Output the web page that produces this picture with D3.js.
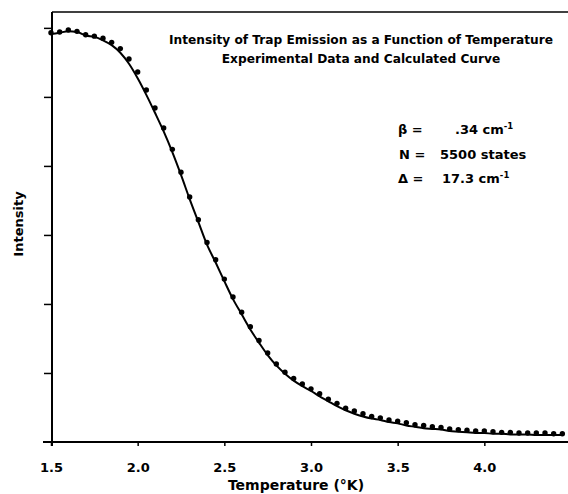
<!DOCTYPE html>
<html>
<head>
<meta charset="utf-8">
<script src="https://cdn.jsdelivr.net/npm/d3@7"></script>
<style>
  body { margin: 0; background: #fff; }
  text { font-family: "DejaVu Sans", sans-serif; font-weight: bold; fill: #000; }
</style>
</head>
<body>
<script>
// measured points (temperature in K, intensity in arbitrary units)
var pointTemps = [1.50,1.55,1.60,1.65,1.70,1.75,1.80,1.85,1.90,1.95,
                  2.00,2.05,2.10,2.15,2.20,2.25,2.30,2.35,2.40,2.45,
                  2.50,2.55,2.60,2.65,2.70,2.75,2.80,2.85,2.90,2.95,
                  3.00,3.05,3.10,3.15,3.20,3.25,3.30,3.35,3.40,3.45,
                  3.50,3.55,3.60,3.65,3.70,3.75,3.80,3.85,3.90,3.95,
                  4.00,4.05,4.10,4.15,4.20,4.25,4.30,4.35,4.40,4.45];
var pointValues = [5.93,5.94,5.97,5.95,5.90,5.88,5.85,5.79,5.70,5.55,
                   5.36,5.10,4.84,4.55,4.24,3.91,3.55,3.22,2.89,2.64,
                   2.36,2.10,1.88,1.67,1.47,1.29,1.13,1.01,0.92,0.84,
                   0.77,0.70,0.62,0.56,0.49,0.45,0.41,0.37,0.35,0.32,
                   0.30,0.28,0.25,0.24,0.22,0.21,0.19,0.18,0.17,0.16,
                   0.16,0.15,0.14,0.14,0.13,0.13,0.13,0.13,0.12,0.12];

// calculated curve
var curveTemps = pointTemps;
var curveValues = [5.91,5.93,5.95,5.94,5.89,5.87,5.82,5.75,5.64,5.48,
                   5.27,5.03,4.77,4.50,4.20,3.87,3.52,3.19,2.86,2.60,
                   2.33,2.07,1.85,1.63,1.44,1.26,1.11,0.99,0.89,0.81,
                   0.74,0.66,0.59,0.52,0.46,0.41,0.37,0.34,0.32,0.29,
                   0.27,0.24,0.22,0.20,0.19,0.18,0.16,0.15,0.14,0.13,
                   0.13,0.12,0.12,0.11,0.11,0.11,0.10,0.10,0.10,0.10];

var xTicks = [1.5, 2.0, 2.5, 3.0, 3.5, 4.0];
var yTicks = [1, 2, 3, 4, 5, 6];

var titleLines = ["Intensity of Trap Emission as a Function of Temperature",
                  "Experimental Data and Calculated Curve"];

var margin = {top: 12, right: 0, bottom: 52, left: 51},
    width = 568 - margin.left - margin.right,
    height = 494 - margin.top - margin.bottom;

var x = d3.scaleLinear().domain([1.5, 4.5]).range([0, 520]);
var y = d3.scaleLinear().domain([0, 6.23]).range([height, 0]);

var svg = d3.select("body").append("svg")
    .attr("width", 568)
    .attr("height", 494)
  .append("g")
    .attr("transform", "translate(" + margin.left + "," + margin.top + ")");

// top frame line
svg.append("line")
    .attr("x1", 1).attr("x2", width + 5)
    .attr("y1", 0).attr("y2", 0)
    .attr("stroke", "#000").attr("stroke-width", 1.6);

// x axis
var xAxis = svg.append("g")
    .attr("transform", "translate(0," + height + ")")
    .call(d3.axisBottom(x).tickValues(xTicks).tickSize(4).tickPadding(17)
      .tickFormat(d3.format(".1f")));
xAxis.select(".domain").remove();
xAxis.append("line")
    .attr("x1", -8).attr("x2", width + 5)
    .attr("stroke", "#000").attr("stroke-width", 2);
xAxis.selectAll(".tick line").attr("stroke-width", 1.5);
xAxis.selectAll(".tick text").style("font-size", "13px").style("font-weight", "bold");

// y axis
var yAxis = svg.append("g")
    .call(d3.axisLeft(y).tickValues(yTicks).tickSize(7).tickFormat(""));
yAxis.select(".domain").remove();
yAxis.append("line")
    .attr("x1", 1).attr("x2", 1)
    .attr("y1", 0).attr("y2", height + 4)
    .attr("stroke", "#000").attr("stroke-width", 2);
yAxis.selectAll(".tick line").attr("stroke-width", 1.5);

// calculated curve
var curve = d3.line()
    .x(function(d) { return x(d[0]); })
    .y(function(d) { return y(d[1]); })
    .curve(d3.curveMonotoneX);

svg.append("path")
    .datum(d3.zip(curveTemps, curveValues))
    .attr("fill", "none")
    .attr("stroke", "#000")
    .attr("stroke-width", 2)
    .attr("d", curve);

// data points
svg.selectAll(".dot")
    .data(d3.zip(pointTemps, pointValues))
  .enter().append("circle")
    .attr("class", "dot")
    .attr("cx", function(d) { return x(d[0]); })
    .attr("cy", function(d) { return y(d[1]); })
    .attr("r", 2.7)
    .attr("fill", "#000");

// titles
svg.selectAll(".title")
    .data(titleLines)
  .enter().append("text")
    .attr("class", "title")
    .attr("x", 310)
    .attr("y", function(d, i) { return 32 + i * 19; })
    .attr("text-anchor", "middle")
    .style("font-size", "12.2px")
    .text(function(d) { return d; });

// parameters
var params = svg.append("g").style("font-size", "13px");
var beta = params.append("text").attr("x", 347).attr("y", 122);
beta.append("tspan").text("β =");
beta.append("tspan").attr("x", 404).text(".34 cm");
beta.append("tspan").attr("dy", -5).style("font-size", "8.5px").text("-1");

var nRow = params.append("text").attr("x", 348).attr("y", 147);
nRow.append("tspan").text("N =");
nRow.append("tspan").attr("x", 389).text("5500 states");

var delta = params.append("text").attr("x", 347).attr("y", 171);
delta.append("tspan").text("Δ =");
delta.append("tspan").attr("x", 391).text("17.3 cm");
delta.append("tspan").attr("dy", -5).style("font-size", "8.5px").text("-1");

// axis labels
svg.append("text")
    .attr("x", 245)
    .attr("y", height + 48)
    .attr("text-anchor", "middle")
    .style("font-size", "14px")
    .text("Temperature (°K)");

svg.append("text")
    .attr("transform", "translate(" + (-28) + "," + 212 + ") rotate(-90)")
    .attr("text-anchor", "middle")
    .style("font-size", "13px")
    .text("Intensity");
</script>
</body>
</html>
